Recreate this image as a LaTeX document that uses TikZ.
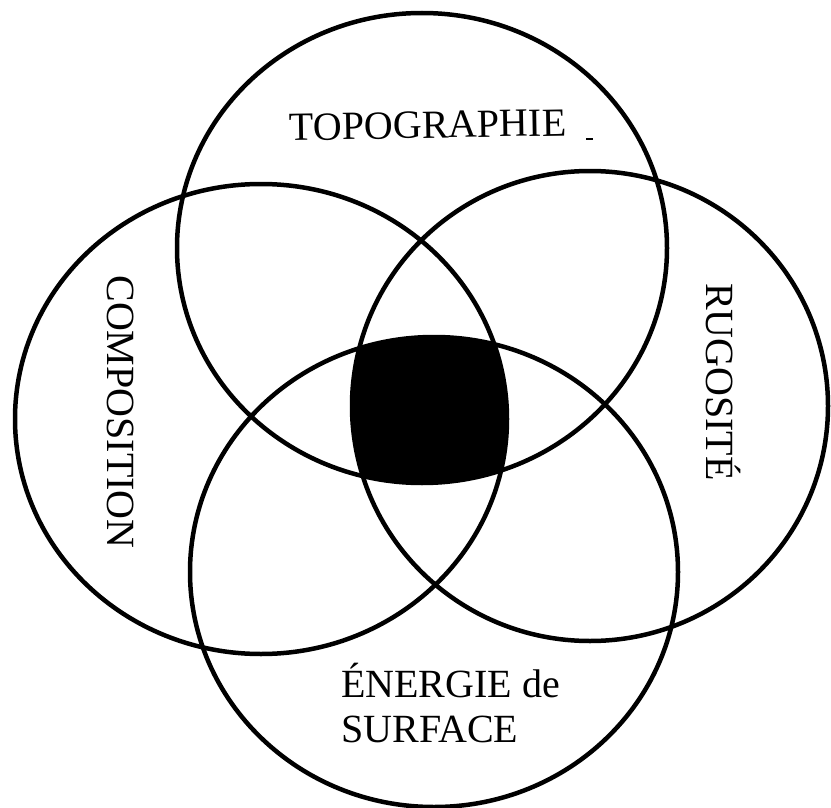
\documentclass[tikz,border=0pt]{standalone}
\usepackage{fontspec}
\setmainfont{Liberation Serif}
\usepackage{tikz}

\tikzset{
  ring/.style={line width=4.5pt},
  lbl/.style={inner sep=0pt, font=\fontsize{40}{45}\selectfont}
}

\begin{document}
\begin{tikzpicture}[x=1pt,y=-1pt]
\useasboundingbox (0,0) rectangle (831,808);
% common zone of the four rings
\begin{scope}
\clip (422,248) ellipse (245 and 235);
\clip (261,419) ellipse (246 and 235);
\clip (590,406) ellipse (238 and 235);
\fill (434,572) ellipse (244 and 235);
\end{scope}
\draw[ring] (422,248) ellipse (245 and 235);
\draw[ring] (261,419) ellipse (246 and 235);
\draw[ring] (590,406) ellipse (238 and 235);
\draw[ring] (434,572) ellipse (244 and 235);
\node[lbl, anchor=base, rotate=1] (topo) at (428,138) {TOPOGRAPHIE};
\draw[line width=2pt] (586,139) -- (593,139);
\node[lbl, anchor=base, rotate=-90] (compo) at (107,412) {COMPOSITION};
\node[lbl, anchor=base, rotate=-90] (rugo) at (706,382) {RUGOSITÉ};
\node[lbl, anchor=base west, align=left] (energie) at (341,742) {ÉNERGIE de\\SURFACE};
\end{tikzpicture}
\end{document}
